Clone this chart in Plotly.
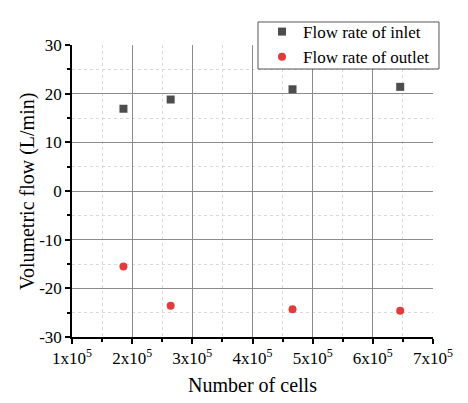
import plotly.graph_objects as go

cells = [1.855e5, 2.64e5, 4.665e5, 6.455e5]
inlet = [16.9, 18.8, 20.9, 21.4]
outlet = [-15.5, -23.6, -24.3, -24.6]
x_ticks = [1e5, 2e5, 3e5, 4e5, 5e5, 6e5, 7e5]
x_ticktext = ["1x10<sup>5</sup>", "2x10<sup>5</sup>", "3x10<sup>5</sup>", "4x10<sup>5</sup>",
              "5x10<sup>5</sup>", "6x10<sup>5</sup>", "7x10<sup>5</sup>"]
y_ticks = [-30, -20, -10, 0, 10, 20, 30]
y_ticktext = ["-30", "-20", "-10", "0", "10", "20", "30"]

FONT = "Liberation Serif, Times New Roman, serif"

fig = go.Figure()
fig.add_trace(go.Scatter(x=cells, y=inlet, mode="markers", name="Flow rate of inlet",
                         marker=dict(symbol="square", size=8, color="#4d4d4d")))
fig.add_trace(go.Scatter(x=cells, y=outlet, mode="markers", name="Flow rate of outlet",
                         marker=dict(symbol="circle", size=8, color="#e23b3b")))

# legend frame (white box with gray border)
fig.add_shape(type="rect", xref="paper", yref="paper",
              x0=0.5152, x1=1.0166, y0=0.9178, y1=1.0788,
              line=dict(color="#555555", width=1), fillcolor="white", layer="above")

# y-axis title
fig.add_annotation(text="Volumetric flow (L/min)", xref="paper", yref="paper",
                   x=-0.1247, y=0.5, textangle=-90, showarrow=False,
                   xanchor="center", yanchor="middle",
                   font=dict(size=20, family=FONT, color="black"))

fig.update_layout(
    width=468, height=403,
    margin=dict(l=72, r=35, t=45, b=66, autoexpand=False),
    paper_bgcolor="white", plot_bgcolor="white",
    font=dict(family=FONT, color="black", size=16),
    showlegend=True,
    legend=dict(x=0.5235, y=1.106, xanchor="left", yanchor="top",
                borderwidth=0, bgcolor="rgba(0,0,0,0)",
                font=dict(family=FONT, size=17, color="black"),
                itemwidth=32, tracegroupgap=0),
    xaxis=dict(range=[1e5, 7e5], tickmode="array", tickvals=x_ticks, ticktext=x_ticktext,
               showline=True, linecolor="black", linewidth=1.5,
               ticks="outside", ticklen=5, tickcolor="black", tickwidth=1.5,
               showgrid=True, gridcolor="#8c8c8c", gridwidth=1,
               minor=dict(dtick=5e4, tick0=1e5, showgrid=True, gridcolor="#d9d9d9",
                          griddash="dot", ticks="outside", ticklen=3, tickcolor="black"),
               zeroline=False, automargin=False,
               title=dict(text="Number of cells", font=dict(size=20, family=FONT), standoff=11),
               tickfont=dict(size=17, family=FONT)),
    yaxis=dict(range=[-30, 30], tickmode="array", tickvals=y_ticks, ticktext=y_ticktext,
               showline=True, linecolor="black", linewidth=1.5,
               ticks="outside", ticklen=5, tickcolor="black", tickwidth=1.5,
               showgrid=True, gridcolor="#8c8c8c", gridwidth=1,
               minor=dict(dtick=5, tick0=-30, showgrid=True, gridcolor="#d9d9d9",
                          griddash="dot", ticks="outside", ticklen=3, tickcolor="black"),
               zeroline=False, automargin=False,
               tickfont=dict(size=17, family=FONT)),
)

fig.write_html("out.html", config={"displayModeBar": False},
               post_script="document.body.style.margin='0';")
